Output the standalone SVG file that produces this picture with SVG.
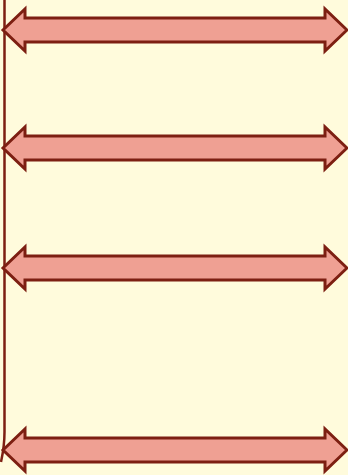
<svg xmlns="http://www.w3.org/2000/svg" width="348" height="475" viewBox="0 0 348 475">
<style>
.arr{fill:#EFA093;stroke:#7D1F12;stroke-width:3;stroke-linejoin:miter}
.ln{fill:none;stroke:#7D1F12;stroke-width:2.5}
</style>
<defs>
<path id="dbl" d="M3,0 L25,-21 L25,-12 L325,-12 L325,-21 L347,0 L325,21 L325,12 L25,12 L25,21 Z"/>
</defs>
<rect width="348" height="475" fill="#FFFBDC"/>
<g id="connectors">
<path class="ln" d="M4.5,0 L4.5,432 Q4.5,446 1,462"/>
</g>
<g id="arrow1"><use href="#dbl" class="arr" transform="translate(0,30)"/></g>
<g id="arrow2"><use href="#dbl" class="arr" transform="translate(0,148)"/></g>
<g id="arrow3"><use href="#dbl" class="arr" transform="translate(0,268)"/></g>
<g id="arrow4"><use href="#dbl" class="arr" transform="translate(0,450)"/></g>
</svg>
